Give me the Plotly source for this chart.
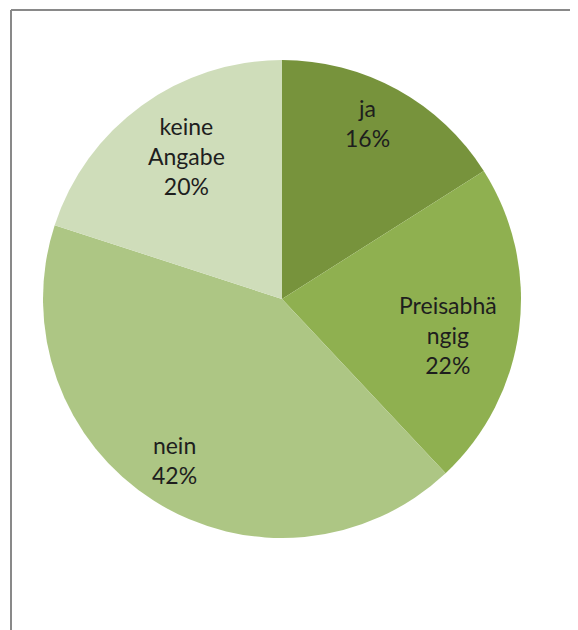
import math
import plotly.graph_objects as go

# ---- data ----
labels = ["ja", "Preisabhängig", "nein", "keine Angabe"]
label_text = ["ja", "Preisabhä<br>ngig", "nein", "keine<br>Angabe"]
values = [16, 22, 42, 20]

# ---- style ----
colors = ["#77933C", "#8FB050", "#ADC684", "#CFDDBA"]
label_radius = [0.82, 0.71, 0.81, 0.72]     # fraction of pie radius
label_nudge_deg = [-3.0, 5.0, 1.5, 2.3]      # fine angular offset
OFF = 8                      # page body margin
W, H = 578 - OFF, 630 - OFF  # figure size
cx, cy, R = 282 - OFF, 299 - OFF, 239  # pie centre/radius in figure px

fig = go.Figure(go.Pie(
    labels=labels, values=values, sort=False, direction="clockwise", rotation=0,
    marker=dict(colors=colors, line=dict(width=0)),
    textinfo="none", hoverinfo="none", showlegend=False,
    domain=dict(x=[(cx - R) / W, (cx + R) / W], y=[1 - (cy + R) / H, 1 - (cy - R) / H]),
))

total = sum(values)
cum = 0
annotations = []
for i, v in enumerate(values):
    mid = (cum + v / 2) / total * 360 + label_nudge_deg[i]
    cum += v
    r = R * label_radius[i]
    px = cx + r * math.sin(math.radians(mid))
    py = cy - r * math.cos(math.radians(mid))
    pct = round(v / total * 100)
    annotations.append(dict(
        x=px / W, y=1 - py / H, xref="paper", yref="paper",
        text=f"{label_text[i]}<br>{pct}%", showarrow=False,
        font=dict(family="Lato", size=23, color="#1e1e1e"),
        align="center", xanchor="center", yanchor="middle",
    ))

bx, by = 11 - OFF, 10 - OFF
shapes = [
    dict(type="line", xref="paper", yref="paper", x0=bx / W, x1=bx / W, y0=0, y1=1 - by / H,
         line=dict(color="#898989", width=2)),
    dict(type="line", xref="paper", yref="paper", x0=bx / W, x1=1, y0=1 - by / H, y1=1 - by / H,
         line=dict(color="#898989", width=2)),
]

fig.update_layout(
    width=W, height=H, margin=dict(l=0, r=0, t=0, b=0),
    paper_bgcolor="white", plot_bgcolor="white",
    annotations=annotations, shapes=shapes,
)
fig.write_html("out.html")
